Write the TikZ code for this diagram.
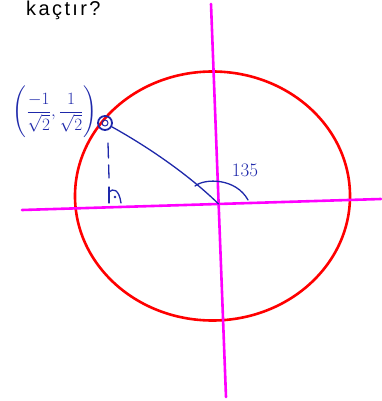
\documentclass[tikz,border=0pt]{standalone}
\usepackage{amsmath}
\usepackage{fontspec}
\newfontfamily\qfont[LetterSpace=12]{Liberation Sans}
\definecolor{axis}{RGB}{255,0,255}
\definecolor{pen}{RGB}{30,40,170}
\begin{document}
\begin{tikzpicture}[x=1pt,y=-1pt,>=latex,line cap=round,
    axisline/.style={axis,line width=2.6pt},
    penline/.style={pen,line width=1.3pt}]
  \useasboundingbox (0,0) rectangle (381,401);
  \node[anchor=base west,inner sep=0pt,font=\qfont\fontsize{20}{22}\selectfont] (q) at (26,16) {kaçtır?};
  % The unit circle and the two axes.
  \draw[red,line width=2.6pt] (212.5,196) ellipse [x radius=137.5, y radius=124.5];
  \draw[axisline] (22,210) -- (381,199);
  \draw[axisline] (211,4) -- (226,397);
  \coordinate (O) at (218.6,204);
  % The point on the circle, its radius and its drop to the x axis.
  \node[circle,draw=pen,line width=1.8pt,minimum size=14pt,inner sep=0pt] (P) at (105,123) {};
  \node[circle,draw=pen,line width=1pt,minimum size=6pt,inner sep=0pt] (p) at (105,123) {};
  \draw[penline] (P) .. controls (150,148) and (190,176) .. (O);
  \coordinate (D1) at (108,143);
  \coordinate (D2) at (109,178);
  \draw[penline,dash pattern=on 15pt off 7pt] (D1) -- (D2);
  \draw[penline] (109,187) -- (109,203);
  \draw[penline] (109,192) .. controls (113,188) and (119,189) .. (121,203);
  \fill[pen] (115,197) circle (1.3);
  % The angle.
  \draw[penline] (195,186) .. controls (205,178) and (236,178) .. (248,200);
  \node[pen,font=\fontsize{19}{19}\selectfont] (a) at (245,170) {135};
  \node[pen,font=\fontsize{18}{18}\selectfont] (l) at (55,112)
    {\(\Biggl(\dfrac{-1}{\sqrt2},\dfrac{1}{\sqrt2}\Biggr)\)};
\end{tikzpicture}
\end{document}
